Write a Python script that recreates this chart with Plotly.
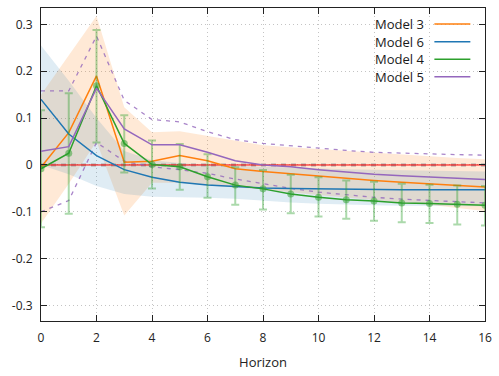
import plotly.graph_objects as go

# Forecast horizon
horizon = list(range(17))

# Model 3: point estimate and band
model3 = [-0.005, 0.069, 0.19, 0.006, 0.008, 0.02, 0.009, -0.008, -0.014, -0.019,
          -0.024, -0.029, -0.033, -0.037, -0.040, -0.044, -0.047]
model3_hi = [0.15, 0.234, 0.318, 0.123, 0.07, 0.072, 0.062, 0.052, 0.042, 0.038,
             0.034, 0.03, 0.026, 0.022, 0.018, 0.015, 0.012]
model3_lo = [-0.125, -0.04, 0.05, -0.108, -0.038, -0.038, -0.044, -0.048, -0.052, -0.058,
             -0.064, -0.07, -0.075, -0.08, -0.085, -0.092, -0.098]

# Model 6: point estimate and band
model6 = [0.14, 0.066, 0.02, -0.01, -0.026, -0.037, -0.043, -0.046, -0.049, -0.05,
          -0.051, -0.052, -0.052, -0.053, -0.053, -0.053, -0.053]
model6_hi = [0.255, 0.18, 0.10, 0.03, 0.01, 0.004, 0.0, -0.002, -0.004, -0.006,
             -0.007, -0.009, -0.01, -0.011, -0.012, -0.013, -0.014]
model6_lo = [0.0, -0.02, -0.045, -0.062, -0.068, -0.069, -0.07, -0.072, -0.076, -0.08,
             -0.083, -0.085, -0.086, -0.087, -0.087, -0.088, -0.088]

# Model 4: point estimate with interval bars
model4 = [-0.008, 0.025, 0.169, 0.046, 0.001, -0.004, -0.025, -0.043, -0.051, -0.062,
          -0.069, -0.074, -0.077, -0.081, -0.082, -0.084, -0.086]
model4_hi = [0.117, 0.153, 0.288, 0.106, 0.052, 0.045, 0.023, -0.005, -0.011, -0.021,
             -0.026, -0.033, -0.036, -0.040, -0.042, -0.044, -0.045]
model4_lo = [-0.133, -0.104, 0.048, -0.016, -0.050, -0.053, -0.070, -0.085, -0.095, -0.103,
             -0.110, -0.115, -0.119, -0.122, -0.124, -0.127, -0.129]

# Model 5: point estimate with dashed bounds
model5 = [0.029, 0.039, 0.164, 0.077, 0.043, 0.043, 0.027, 0.009, 0.0, -0.004,
          -0.01, -0.015, -0.02, -0.023, -0.026, -0.029, -0.031]
model5_hi = [0.158, 0.158, 0.275, 0.138, 0.097, 0.092, 0.071, 0.054, 0.046, 0.041,
             0.035, 0.031, 0.027, 0.025, 0.023, 0.022, 0.021]
model5_lo = [-0.1, -0.076, 0.048, 0.008, -0.004, -0.01, -0.018, -0.03, -0.04, -0.05,
             -0.058, -0.064, -0.069, -0.073, -0.076, -0.079, -0.081]

x_ticks = list(range(0, 17, 2))
y_ticks = [-0.3, -0.2, -0.1, 0.0, 0.1, 0.2, 0.3]
y_ticktext = ["-0.3", "-0.2", "-0.1", "0", "0.1", "0.2", "0.3"]

series_names = ["Model 3", "Model 6", "Model 4", "Model 5"]
ORANGE, BLUE, GREEN, PURPLE = "#ff7f0e", "#1f77b4", "#2ca02c", "#9467bd"
series_colors = [ORANGE, BLUE, GREEN, PURPLE]

fig = go.Figure()


def band(lo, hi, fillcolor):
    fig.add_trace(go.Scatter(
        x=horizon + horizon[::-1], y=hi + lo[::-1],
        fill="toself", fillcolor=fillcolor, line=dict(width=0),
        mode="lines", hoverinfo="skip", showlegend=False))


band(model3_lo, model3_hi, "rgba(255,127,14,0.17)")
band(model6_lo, model6_hi, "rgba(31,119,180,0.14)")

# zero reference lines
fig.add_trace(go.Scatter(x=[0, 16], y=[0, 0], mode="lines",
                         line=dict(color="#a8a8a8", width=3, dash="5px,5px"),
                         showlegend=False, hoverinfo="skip"))
fig.add_trace(go.Scatter(x=[0, 16], y=[0, 0], mode="lines",
                         line=dict(color="#ff0000", width=1),
                         showlegend=False, hoverinfo="skip"))

# Model 5 dashed bounds
for bound in (model5_hi, model5_lo):
    fig.add_trace(go.Scatter(x=horizon, y=bound, mode="lines",
                             line=dict(color=PURPLE, width=1.3, dash="4px,5px"),
                             opacity=0.8, showlegend=False, hoverinfo="skip"))

fig.add_trace(go.Scatter(x=horizon, y=model3, mode="lines",
                         line=dict(color=ORANGE, width=1.5), name="Model 3"))
fig.add_trace(go.Scatter(x=horizon, y=model6, mode="lines",
                         line=dict(color=BLUE, width=1.5), name="Model 6"))

# Model 4 interval bars
fig.add_trace(go.Scatter(
    x=horizon, y=model4, mode="markers",
    marker=dict(size=0.1, color="rgba(0,0,0,0)"),
    error_y=dict(type="data", symmetric=False,
                 array=[h - m for h, m in zip(model4_hi, model4)],
                 arrayminus=[m - l for m, l in zip(model4, model4_lo)],
                 color="rgba(44,160,44,0.4)", thickness=2, width=4),
    showlegend=False, hoverinfo="skip"))
fig.add_trace(go.Scatter(x=horizon, y=model4, mode="lines",
                         line=dict(color=GREEN, width=1.5), name="Model 4"))
fig.add_trace(go.Scatter(x=horizon, y=model4, mode="markers",
                         marker=dict(size=7, color="rgba(44,160,44,0.5)"),
                         showlegend=False, hoverinfo="skip"))
fig.add_trace(go.Scatter(x=horizon, y=model5, mode="lines",
                         line=dict(color=PURPLE, width=1.5), name="Model 5"))

# key in the top-right corner: label followed by a line sample
row_y = [0.949, 0.892, 0.836, 0.780]
for name, color, yy in zip(series_names, series_colors, row_y):
    fig.add_annotation(x=0.868, y=yy, xref="x domain", yref="y domain",
                       text=name, showarrow=False, xanchor="right", yanchor="middle",
                       font=dict(family="Open Sans", size=13, color="#1a1a1a"))
    fig.add_shape(type="line", xref="x domain", yref="y domain",
                  x0=0.886, x1=0.967, y0=yy, y1=yy,
                  line=dict(color=color, width=1.5))

axis_common = dict(
    showline=True, linecolor="#222222", linewidth=1, mirror="ticks",
    ticks="inside", ticklen=6, tickcolor="#222222", tickwidth=1,
    showgrid=True, gridcolor="#c4c4c4", griddash="1px,3px", gridwidth=1,
    zeroline=False, tickfont=dict(family="Open Sans", size=12, color="#222222"),
)

fig.update_layout(
    width=499, height=376,
    margin=dict(l=41, r=10, t=7, b=55),
    paper_bgcolor="white", plot_bgcolor="white",
    showlegend=False,
    font=dict(family="Open Sans", size=12, color="#222222"),
    xaxis=dict(range=[0, 16], tickvals=x_ticks, ticklabelstandoff=6,
               title=dict(text="Horizon", standoff=12,
                          font=dict(family="Open Sans", size=13, color="#222222")),
               **axis_common),
    yaxis=dict(range=[-0.333, 0.335], tickvals=y_ticks, ticktext=y_ticktext,
               ticklabelstandoff=5, **axis_common),
)

fig.write_html("out.html")
